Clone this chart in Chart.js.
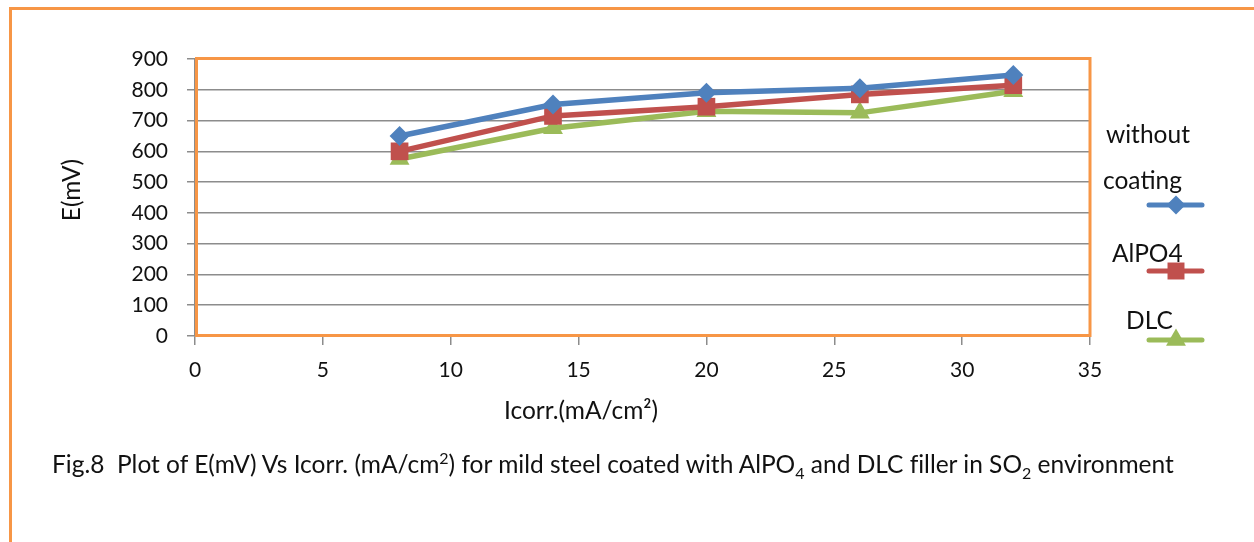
<!DOCTYPE html>
<html>
<head>
<meta charset="utf-8">
<script src="https://cdn.jsdelivr.net/npm/chart.js@4/dist/chart.umd.min.js"></script>
<style>
  html, body { margin: 0; padding: 0; background: #fff; }
  #wrap { position: relative; width: 1254px; height: 542px; overflow: hidden; }
  #frame { position: absolute; left: 9px; top: 7px; right: -10px; bottom: -10px;
           border-top: 3px solid #F79646; border-left: 3px solid #F79646; }
  #chart { position: absolute; left: 0; top: 0; }
  #caption { position: absolute; left: 52px; top: 448px; font-family: Lato, sans-serif;
             font-size: 24.5px; color: #111; white-space: pre; font-variant-ligatures: none; }
  #caption sup, #caption sub { font-size: 16px; }
</style>
</head>
<body>
<div id="wrap">
  <div id="frame"></div>
  <canvas id="chart" width="1254" height="542"></canvas>
  <div id="caption">Fig.8  Plot of E(mV) Vs Icorr. (mA/cm<sup>2</sup>) for mild steel coated with AlPO<sub>4</sub> and DLC filler in SO<sub>2</sub> environment</div>
</div>
<script>
const icorr = [8, 14, 20, 26, 32];
const withoutCoating = [650, 752, 790, 805, 848];
const alpo4 = [600, 715, 745, 785, 815];
const dlc = [575, 675, 730, 725, 795];
const xTicks = [0, 5, 10, 15, 20, 25, 30, 35];
const yTicks = [0, 100, 200, 300, 400, 500, 600, 700, 800, 900];

const FONT = 'Lato, sans-serif';
const BLUE = '#4F81BD', RED = '#C0504D', GREEN = '#9BBB59', ORANGE = '#F79646';

const toPoints = (vals) => icorr.map((x, i) => ({ x: x, y: vals[i] }));

// orange frame round the plot area, axis titles and the legend on the right
const extras = {
    id: 'extras',
    beforeDatasetsDraw(chart) {
        const { ctx, chartArea: a } = chart;
        ctx.save();
        ctx.strokeStyle = ORANGE;
        ctx.lineWidth = 3;
        ctx.strokeRect(a.left + 1.5, a.top - 0.5, a.right - a.left - 1.5, a.bottom - a.top);
        ctx.restore();
    },
    afterDraw(chart) {
        const { ctx } = chart;
        ctx.save();
        ctx.fillStyle = '#111';
        ctx.font = '24.5px ' + FONT;
        ctx.textAlign = 'center';
        ctx.textBaseline = 'middle';
        ctx.fillText('Icorr.(mA/cm\u00B2)', 581, 411);
        ctx.save();
        ctx.translate(72, 190);
        ctx.rotate(-Math.PI / 2);
        ctx.fillText('E(mV)', 0, 0);
        ctx.restore();

        ctx.textAlign = 'left';
        ctx.fillText('without', 1106, 135);
        ctx.fillText('coating', 1103, 181);
        ctx.fillText('AlPO4', 1112, 254);
        ctx.fillText('DLC', 1126, 321);

        const items = [
            { y: 205, color: BLUE, style: 'rectRot', r: 9.5 },
            { y: 271, color: RED, style: 'rect', r: 12 },
            { y: 340, color: GREEN, style: 'triangle', r: 11.5 }
        ];
        items.forEach(it => {
            ctx.strokeStyle = it.color;
            ctx.lineWidth = 5;
            ctx.lineCap = 'round';
            ctx.beginPath();
            ctx.moveTo(1149, it.y);
            ctx.lineTo(1202, it.y);
            ctx.stroke();
            ctx.fillStyle = it.color;
            Chart.helpers.drawPoint(ctx, { pointStyle: it.style, radius: it.r, borderWidth: 0 }, 1176, it.y);
        });
        ctx.restore();
    }
};

new Chart(document.getElementById('chart'), {
    type: 'scatter',
    data: {
        datasets: [
            { label: 'without coating', data: toPoints(withoutCoating), borderColor: BLUE, backgroundColor: BLUE,
              pointStyle: 'rectRot', pointRadius: 10 },
            { label: 'AlPO4', data: toPoints(alpo4), borderColor: RED, backgroundColor: RED,
              pointStyle: 'rect', pointRadius: 12.5 },
            { label: 'DLC', data: toPoints(dlc), borderColor: GREEN, backgroundColor: GREEN,
              pointStyle: 'triangle', pointRadius: 11.5 }
        ].map(ds => Object.assign(ds, { showLine: true, borderWidth: 5.5, pointBorderWidth: 0, clip: false }))
    },
    options: {
        responsive: false,
        animation: false,
        layout: { padding: { top: 59, right: 164, left: 0, bottom: 0 } },
        plugins: { legend: { display: false }, tooltip: { enabled: false } },
        scales: {
            x: {
                type: 'linear', min: 0, max: 35,
                afterBuildTicks: (s) => { s.ticks = xTicks.map(v => ({ value: v })); },
                afterFit: (s) => { s.height = 206; },
                grid: { drawOnChartArea: false, drawTicks: true, tickLength: 9, color: '#8c8c8c', lineWidth: 1.5 },
                border: { display: true, color: '#8c8c8c', width: 1.5 },
                ticks: { color: '#111', font: { family: FONT, size: 21 }, padding: 13 }
            },
            y: {
                min: 0, max: 900,
                afterBuildTicks: (s) => { s.ticks = yTicks.map(v => ({ value: v })); },
                afterFit: (s) => { s.width = 195; },
                grid: { color: '#8c8c8c', lineWidth: 1.5, drawTicks: true, tickLength: 8 },
                border: { display: true, color: '#8c8c8c', width: 1.5 },
                ticks: { color: '#111', font: { family: FONT, size: 21 }, padding: 19 }
            }
        }
    },
    plugins: [extras]
});
</script>
</body>
</html>
